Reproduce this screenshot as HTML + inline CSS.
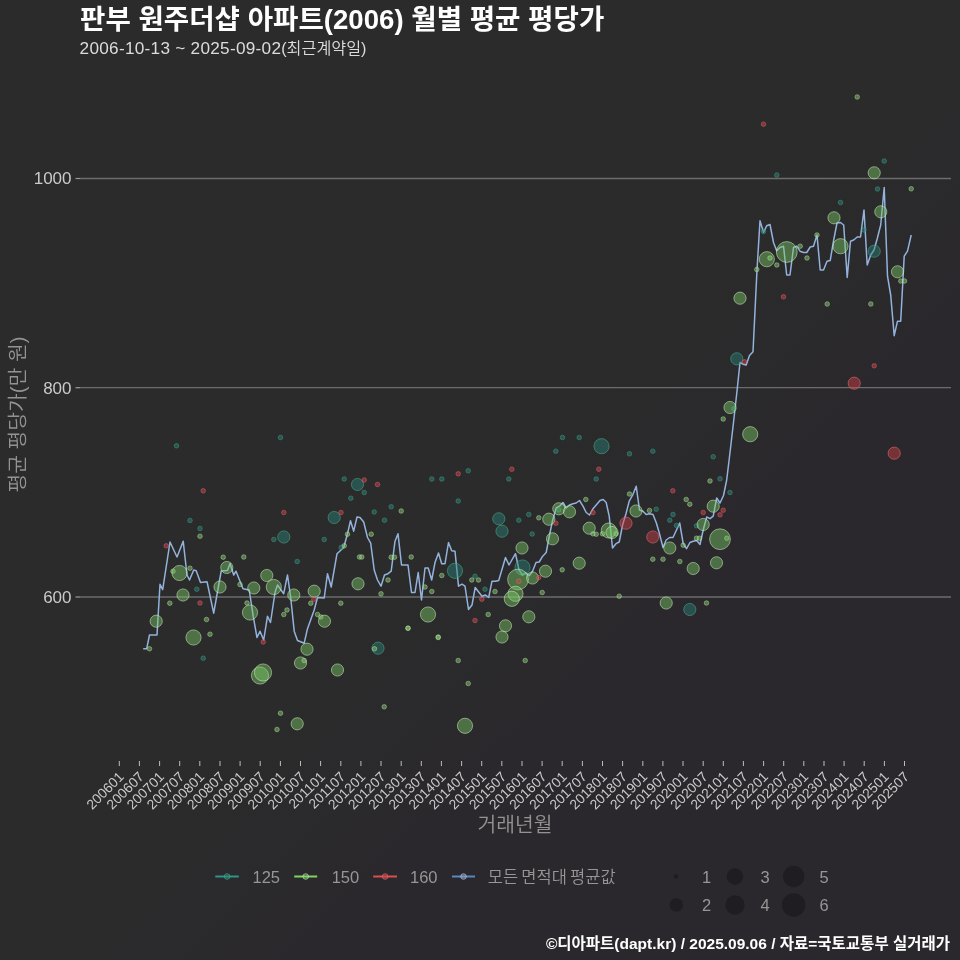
<!DOCTYPE html>
<html lang="ko"><head><meta charset="utf-8"><title>판부 원주더샵 아파트(2006) 월별 평균 평당가</title>
<style>
html,body{margin:0;padding:0;background:#2b2a2c;}
body{width:960px;height:960px;overflow:hidden;background:linear-gradient(135deg,#2b2b2b 0%,#2b2b2b 50%,#2a282c 66%,#2a282c 100%);}
svg{display:block;font-family:"Liberation Sans", "Noto Sans CJK KR", sans-serif;will-change:transform;transform:translateZ(0);}
.title{font-weight:700;font-size:27.6px;fill:#ffffff;}
.sub{font-weight:350;font-size:17.2px;fill:#dcdcdc;}
.ytick{font-weight:300;font-size:17px;fill:#cacaca;text-anchor:end;}
.xtick{font-weight:300;font-size:13.8px;fill:#cacaca;text-anchor:end;}
.axt{font-weight:350;font-size:20.4px;fill:#939393;text-anchor:middle;}
.leg{font-weight:350;font-size:16.5px;fill:#969696;}
.foot{font-weight:700;font-size:15.5px;fill:#ffffff;text-anchor:end;}
</style></head><body>
<svg width="960" height="960" viewBox="0 0 960 960">
<line x1="80" y1="178.5" x2="951" y2="178.5" stroke="#6c6c6c" stroke-width="1.3"/>
<line x1="75.5" y1="178.5" x2="80" y2="178.5" stroke="#9a9a9a" stroke-width="1.2"/>
<text class="ytick" x="71.5" y="184.3">1000</text>
<line x1="80" y1="387.7" x2="951" y2="387.7" stroke="#6c6c6c" stroke-width="1.3"/>
<line x1="75.5" y1="387.7" x2="80" y2="387.7" stroke="#9a9a9a" stroke-width="1.2"/>
<text class="ytick" x="71.5" y="393.6">800</text>
<line x1="80" y1="597.0" x2="951" y2="597.0" stroke="#6c6c6c" stroke-width="1.3"/>
<line x1="75.5" y1="597.0" x2="80" y2="597.0" stroke="#9a9a9a" stroke-width="1.2"/>
<text class="ytick" x="71.5" y="602.9">600</text>
<line x1="119.3" y1="761" x2="119.3" y2="766" stroke="#bdbdbd" stroke-width="1"/>
<text class="xtick" transform="translate(124.7,777.6) rotate(-45)">200601</text>
<line x1="139.4" y1="761" x2="139.4" y2="766" stroke="#bdbdbd" stroke-width="1"/>
<text class="xtick" transform="translate(144.8,777.6) rotate(-45)">200607</text>
<line x1="159.6" y1="761" x2="159.6" y2="766" stroke="#bdbdbd" stroke-width="1"/>
<text class="xtick" transform="translate(165.0,777.6) rotate(-45)">200701</text>
<line x1="179.7" y1="761" x2="179.7" y2="766" stroke="#bdbdbd" stroke-width="1"/>
<text class="xtick" transform="translate(185.1,777.6) rotate(-45)">200707</text>
<line x1="199.8" y1="761" x2="199.8" y2="766" stroke="#bdbdbd" stroke-width="1"/>
<text class="xtick" transform="translate(205.2,777.6) rotate(-45)">200801</text>
<line x1="220.0" y1="761" x2="220.0" y2="766" stroke="#bdbdbd" stroke-width="1"/>
<text class="xtick" transform="translate(225.4,777.6) rotate(-45)">200807</text>
<line x1="240.1" y1="761" x2="240.1" y2="766" stroke="#bdbdbd" stroke-width="1"/>
<text class="xtick" transform="translate(245.5,777.6) rotate(-45)">200901</text>
<line x1="260.2" y1="761" x2="260.2" y2="766" stroke="#bdbdbd" stroke-width="1"/>
<text class="xtick" transform="translate(265.6,777.6) rotate(-45)">200907</text>
<line x1="280.4" y1="761" x2="280.4" y2="766" stroke="#bdbdbd" stroke-width="1"/>
<text class="xtick" transform="translate(285.8,777.6) rotate(-45)">201001</text>
<line x1="300.5" y1="761" x2="300.5" y2="766" stroke="#bdbdbd" stroke-width="1"/>
<text class="xtick" transform="translate(305.9,777.6) rotate(-45)">201007</text>
<line x1="320.6" y1="761" x2="320.6" y2="766" stroke="#bdbdbd" stroke-width="1"/>
<text class="xtick" transform="translate(326.0,777.6) rotate(-45)">201101</text>
<line x1="340.8" y1="761" x2="340.8" y2="766" stroke="#bdbdbd" stroke-width="1"/>
<text class="xtick" transform="translate(346.2,777.6) rotate(-45)">201107</text>
<line x1="360.9" y1="761" x2="360.9" y2="766" stroke="#bdbdbd" stroke-width="1"/>
<text class="xtick" transform="translate(366.3,777.6) rotate(-45)">201201</text>
<line x1="381.0" y1="761" x2="381.0" y2="766" stroke="#bdbdbd" stroke-width="1"/>
<text class="xtick" transform="translate(386.4,777.6) rotate(-45)">201207</text>
<line x1="401.2" y1="761" x2="401.2" y2="766" stroke="#bdbdbd" stroke-width="1"/>
<text class="xtick" transform="translate(406.6,777.6) rotate(-45)">201301</text>
<line x1="421.3" y1="761" x2="421.3" y2="766" stroke="#bdbdbd" stroke-width="1"/>
<text class="xtick" transform="translate(426.7,777.6) rotate(-45)">201307</text>
<line x1="441.4" y1="761" x2="441.4" y2="766" stroke="#bdbdbd" stroke-width="1"/>
<text class="xtick" transform="translate(446.8,777.6) rotate(-45)">201401</text>
<line x1="461.6" y1="761" x2="461.6" y2="766" stroke="#bdbdbd" stroke-width="1"/>
<text class="xtick" transform="translate(467.0,777.6) rotate(-45)">201407</text>
<line x1="481.7" y1="761" x2="481.7" y2="766" stroke="#bdbdbd" stroke-width="1"/>
<text class="xtick" transform="translate(487.1,777.6) rotate(-45)">201501</text>
<line x1="501.8" y1="761" x2="501.8" y2="766" stroke="#bdbdbd" stroke-width="1"/>
<text class="xtick" transform="translate(507.2,777.6) rotate(-45)">201507</text>
<line x1="522.0" y1="761" x2="522.0" y2="766" stroke="#bdbdbd" stroke-width="1"/>
<text class="xtick" transform="translate(527.4,777.6) rotate(-45)">201601</text>
<line x1="542.1" y1="761" x2="542.1" y2="766" stroke="#bdbdbd" stroke-width="1"/>
<text class="xtick" transform="translate(547.5,777.6) rotate(-45)">201607</text>
<line x1="562.2" y1="761" x2="562.2" y2="766" stroke="#bdbdbd" stroke-width="1"/>
<text class="xtick" transform="translate(567.6,777.6) rotate(-45)">201701</text>
<line x1="582.4" y1="761" x2="582.4" y2="766" stroke="#bdbdbd" stroke-width="1"/>
<text class="xtick" transform="translate(587.8,777.6) rotate(-45)">201707</text>
<line x1="602.5" y1="761" x2="602.5" y2="766" stroke="#bdbdbd" stroke-width="1"/>
<text class="xtick" transform="translate(607.9,777.6) rotate(-45)">201801</text>
<line x1="622.6" y1="761" x2="622.6" y2="766" stroke="#bdbdbd" stroke-width="1"/>
<text class="xtick" transform="translate(628.0,777.6) rotate(-45)">201807</text>
<line x1="642.8" y1="761" x2="642.8" y2="766" stroke="#bdbdbd" stroke-width="1"/>
<text class="xtick" transform="translate(648.2,777.6) rotate(-45)">201901</text>
<line x1="662.9" y1="761" x2="662.9" y2="766" stroke="#bdbdbd" stroke-width="1"/>
<text class="xtick" transform="translate(668.3,777.6) rotate(-45)">201907</text>
<line x1="683.0" y1="761" x2="683.0" y2="766" stroke="#bdbdbd" stroke-width="1"/>
<text class="xtick" transform="translate(688.4,777.6) rotate(-45)">202001</text>
<line x1="703.2" y1="761" x2="703.2" y2="766" stroke="#bdbdbd" stroke-width="1"/>
<text class="xtick" transform="translate(708.6,777.6) rotate(-45)">202007</text>
<line x1="723.3" y1="761" x2="723.3" y2="766" stroke="#bdbdbd" stroke-width="1"/>
<text class="xtick" transform="translate(728.7,777.6) rotate(-45)">202101</text>
<line x1="743.4" y1="761" x2="743.4" y2="766" stroke="#bdbdbd" stroke-width="1"/>
<text class="xtick" transform="translate(748.8,777.6) rotate(-45)">202107</text>
<line x1="763.6" y1="761" x2="763.6" y2="766" stroke="#bdbdbd" stroke-width="1"/>
<text class="xtick" transform="translate(769.0,777.6) rotate(-45)">202201</text>
<line x1="783.7" y1="761" x2="783.7" y2="766" stroke="#bdbdbd" stroke-width="1"/>
<text class="xtick" transform="translate(789.1,777.6) rotate(-45)">202207</text>
<line x1="803.8" y1="761" x2="803.8" y2="766" stroke="#bdbdbd" stroke-width="1"/>
<text class="xtick" transform="translate(809.2,777.6) rotate(-45)">202301</text>
<line x1="824.0" y1="761" x2="824.0" y2="766" stroke="#bdbdbd" stroke-width="1"/>
<text class="xtick" transform="translate(829.4,777.6) rotate(-45)">202307</text>
<line x1="844.1" y1="761" x2="844.1" y2="766" stroke="#bdbdbd" stroke-width="1"/>
<text class="xtick" transform="translate(849.5,777.6) rotate(-45)">202401</text>
<line x1="864.2" y1="761" x2="864.2" y2="766" stroke="#bdbdbd" stroke-width="1"/>
<text class="xtick" transform="translate(869.6,777.6) rotate(-45)">202407</text>
<line x1="884.4" y1="761" x2="884.4" y2="766" stroke="#bdbdbd" stroke-width="1"/>
<text class="xtick" transform="translate(889.8,777.6) rotate(-45)">202501</text>
<line x1="904.5" y1="761" x2="904.5" y2="766" stroke="#bdbdbd" stroke-width="1"/>
<text class="xtick" transform="translate(909.9,777.6) rotate(-45)">202507</text>
<polyline fill="none" stroke="#93b3dc" stroke-width="1.5" stroke-linejoin="round" stroke-linecap="butt" points="143.2,648.7 146.7,648.7 149.5,635.0 157.0,635.0 160.0,584.3 162.7,589.7 170.0,542.0 177.0,557.0 183.2,541.2 187.0,575.0 189.5,580.0 193.7,570.0 196.2,570.7 200.5,582.5 207.0,581.7 213.7,613.2 221.2,571.0 227.5,570.5 230.0,563.5 233.7,575.0 236.0,571.2 243.0,588.7 249.2,590.0 253.2,616.2 257.0,637.5 260.0,631.2 263.7,640.0 267.5,616.2 270.5,622.5 275.0,592.5 277.5,585.0 283.7,593.7 287.5,575.0 290.7,597.5 294.2,631.2 297.5,640.5 304.2,643.2 307.5,628.7 314.2,610.0 317.5,597.5 324.2,598.0 327.5,573.7 331.2,587.0 337.0,553.7 343.7,547.5 347.5,533.7 350.5,520.7 353.7,531.2 357.0,517.0 360.0,517.5 363.7,522.0 367.5,537.5 370.7,543.2 374.2,570.0 377.5,580.0 381.0,586.2 384.5,575.0 388.0,573.7 391.2,571.2 395.0,541.2 398.0,533.7 401.5,565.0 408.0,565.0 411.5,592.5 415.0,592.5 418.2,572.5 421.5,600.0 425.0,568.0 428.2,568.0 431.7,580.0 435.0,562.5 438.5,553.0 441.7,563.7 445.0,563.7 448.5,542.5 451.7,550.7 455.0,551.2 458.5,586.2 462.0,584.2 465.0,586.2 468.5,609.5 472.0,605.0 475.2,587.5 482.0,596.2 485.5,595.0 488.7,597.5 492.0,581.2 495.5,581.2 498.7,580.5 505.5,557.5 509.0,565.0 515.5,553.7 519.0,570.0 522.5,575.0 525.7,572.5 529.2,575.7 532.5,571.2 536.0,562.5 539.2,562.0 542.7,556.2 546.2,552.5 549.5,535.0 552.7,520.0 556.2,508.0 559.5,506.2 563.0,502.5 566.2,508.0 569.5,505.0 573.0,503.7 576.2,503.0 579.5,500.5 583.0,506.2 586.2,512.5 589.5,515.0 593.0,508.7 596.2,505.0 600.0,500.5 603.2,499.5 606.2,502.5 609.2,516.2 612.5,548.0 616.0,543.7 619.2,542.0 622.7,524.5 626.0,513.7 629.2,501.2 632.7,495.0 636.2,486.2 639.5,510.0 643.0,511.2 646.2,514.5 649.5,513.7 653.0,514.5 656.2,522.5 659.5,533.7 663.0,547.5 666.2,540.0 669.7,537.5 673.0,537.5 676.5,530.0 679.7,523.0 683.2,543.7 686.5,548.7 690.0,542.5 693.2,541.2 696.7,540.5 700.0,544.5 703.2,530.0 706.7,517.0 710.0,518.7 713.2,516.2 716.7,498.0 720.0,503.0 723.5,495.5 726.7,480.0 730.0,452.5 733.5,422.5 736.8,393.0 740.0,362.5 743.0,364.2 746.2,365.0 749.5,355.5 753.0,351.7 757.0,270.0 760.0,220.7 763.5,232.5 766.7,225.7 770.0,224.5 773.5,242.5 776.7,250.7 780.0,247.5 783.5,246.2 786.7,275.0 790.0,275.0 793.5,247.5 796.7,246.2 800.0,251.2 803.5,252.5 806.7,252.5 810.2,247.0 813.5,246.2 817.0,235.0 820.2,270.0 823.5,270.0 827.0,261.2 830.2,260.5 833.7,240.0 837.0,223.0 840.5,222.5 843.7,225.0 847.2,277.5 850.5,241.2 853.7,240.0 857.2,237.0 860.5,237.0 864.0,210.0 867.2,265.0 870.7,255.0 874.0,250.0 877.2,238.7 880.7,225.0 884.2,187.5 887.5,276.2 890.7,295.0 894.2,335.7 897.5,321.2 900.7,321.2 904.2,256.2 907.5,251.2 911.2,235.0"/>
<g fill="#28847c" fill-opacity="0.44" stroke="#4bb18f" stroke-opacity="0.6" stroke-width="0.9">
<circle cx="176.5" cy="445.8" r="2.3" fill-opacity="0.5" stroke-opacity="0.45"/>
<circle cx="280.5" cy="437.5" r="2.3" fill-opacity="0.5" stroke-opacity="0.45"/>
<circle cx="344.2" cy="479.0" r="2.3" fill-opacity="0.5" stroke-opacity="0.45"/>
<circle cx="357.5" cy="484.5" r="6.1"/>
<circle cx="350.8" cy="498.2" r="2.3" fill-opacity="0.5" stroke-opacity="0.45"/>
<circle cx="334.2" cy="517.5" r="6.1"/>
<circle cx="190.0" cy="520.5" r="2.3" fill-opacity="0.5" stroke-opacity="0.45"/>
<circle cx="200.0" cy="528.5" r="2.3" fill-opacity="0.5" stroke-opacity="0.45"/>
<circle cx="283.8" cy="537.0" r="6.1"/>
<circle cx="273.8" cy="539.5" r="2.3" fill-opacity="0.5" stroke-opacity="0.45"/>
<circle cx="324.2" cy="539.5" r="2.3" fill-opacity="0.5" stroke-opacity="0.45"/>
<circle cx="341.2" cy="547.5" r="2.3" fill-opacity="0.5" stroke-opacity="0.45"/>
<circle cx="297.2" cy="561.5" r="2.3" fill-opacity="0.5" stroke-opacity="0.45"/>
<circle cx="196.8" cy="589.2" r="2.3" fill-opacity="0.5" stroke-opacity="0.45"/>
<circle cx="203.2" cy="658.2" r="2.3" fill-opacity="0.5" stroke-opacity="0.45"/>
<circle cx="364.2" cy="492.5" r="2.3" fill-opacity="0.5" stroke-opacity="0.45"/>
<circle cx="374.2" cy="512.0" r="2.3" fill-opacity="0.5" stroke-opacity="0.45"/>
<circle cx="391.2" cy="506.8" r="2.3" fill-opacity="0.5" stroke-opacity="0.45"/>
<circle cx="384.5" cy="520.2" r="2.3" fill-opacity="0.5" stroke-opacity="0.45"/>
<circle cx="431.8" cy="479.0" r="2.3" fill-opacity="0.5" stroke-opacity="0.45"/>
<circle cx="441.8" cy="479.0" r="2.3" fill-opacity="0.5" stroke-opacity="0.45"/>
<circle cx="468.2" cy="470.8" r="2.3" fill-opacity="0.5" stroke-opacity="0.45"/>
<circle cx="458.2" cy="501.0" r="2.3" fill-opacity="0.5" stroke-opacity="0.45"/>
<circle cx="508.8" cy="479.0" r="2.3" fill-opacity="0.5" stroke-opacity="0.45"/>
<circle cx="555.8" cy="451.2" r="2.3" fill-opacity="0.5" stroke-opacity="0.45"/>
<circle cx="562.5" cy="437.5" r="2.3" fill-opacity="0.5" stroke-opacity="0.45"/>
<circle cx="579.2" cy="437.5" r="2.3" fill-opacity="0.5" stroke-opacity="0.45"/>
<circle cx="596.2" cy="479.0" r="2.3" fill-opacity="0.5" stroke-opacity="0.45"/>
<circle cx="528.8" cy="514.5" r="2.3" fill-opacity="0.5" stroke-opacity="0.45"/>
<circle cx="518.8" cy="520.2" r="2.3" fill-opacity="0.5" stroke-opacity="0.45"/>
<circle cx="532.2" cy="534.0" r="2.3" fill-opacity="0.5" stroke-opacity="0.45"/>
<circle cx="475.0" cy="576.2" r="2.3" fill-opacity="0.5" stroke-opacity="0.45"/>
<circle cx="485.0" cy="589.2" r="2.3" fill-opacity="0.5" stroke-opacity="0.45"/>
<circle cx="498.8" cy="518.8" r="6.1"/>
<circle cx="502.0" cy="531.2" r="6.1"/>
<circle cx="455.0" cy="570.8" r="7.6"/>
<circle cx="522.5" cy="567.5" r="7.6"/>
<circle cx="558.8" cy="510.0" r="2.3" fill-opacity="0.5" stroke-opacity="0.45"/>
<circle cx="378.0" cy="648.2" r="6.1"/>
<circle cx="601.5" cy="446.2" r="7.6"/>
<circle cx="629.5" cy="453.8" r="2.3" fill-opacity="0.5" stroke-opacity="0.45"/>
<circle cx="652.8" cy="451.2" r="2.3" fill-opacity="0.5" stroke-opacity="0.45"/>
<circle cx="713.2" cy="456.8" r="2.3" fill-opacity="0.5" stroke-opacity="0.45"/>
<circle cx="720.0" cy="478.8" r="2.3" fill-opacity="0.5" stroke-opacity="0.45"/>
<circle cx="730.0" cy="492.5" r="2.3" fill-opacity="0.5" stroke-opacity="0.45"/>
<circle cx="656.2" cy="509.2" r="2.3" fill-opacity="0.5" stroke-opacity="0.45"/>
<circle cx="673.0" cy="514.5" r="2.3" fill-opacity="0.5" stroke-opacity="0.45"/>
<circle cx="669.8" cy="520.2" r="2.3" fill-opacity="0.5" stroke-opacity="0.45"/>
<circle cx="676.5" cy="525.5" r="2.3" fill-opacity="0.5" stroke-opacity="0.45"/>
<circle cx="696.5" cy="525.8" r="2.3" fill-opacity="0.5" stroke-opacity="0.45"/>
<circle cx="733.8" cy="408.8" r="2.3" fill-opacity="0.5" stroke-opacity="0.45"/>
<circle cx="689.8" cy="609.5" r="6.1"/>
<circle cx="884.2" cy="161.0" r="2.3" fill-opacity="0.5" stroke-opacity="0.45"/>
<circle cx="776.8" cy="175.0" r="2.3" fill-opacity="0.5" stroke-opacity="0.45"/>
<circle cx="877.5" cy="189.0" r="2.3" fill-opacity="0.5" stroke-opacity="0.45"/>
<circle cx="840.5" cy="202.5" r="2.3" fill-opacity="0.5" stroke-opacity="0.45"/>
<circle cx="864.0" cy="230.0" r="2.3" fill-opacity="0.5" stroke-opacity="0.45"/>
<circle cx="874.2" cy="251.2" r="6.1"/>
<circle cx="763.5" cy="231.5" r="2.3" fill-opacity="0.5" stroke-opacity="0.45"/>
<circle cx="736.8" cy="358.8" r="6.1"/>
</g>
<g fill="#7ccb66" fill-opacity="0.44" stroke="#d0f2c2" stroke-opacity="0.6" stroke-width="0.9">
<circle cx="200.0" cy="536.2" r="2.3" fill-opacity="0.5" stroke-opacity="0.45"/>
<circle cx="223.2" cy="557.2" r="2.3" fill-opacity="0.5" stroke-opacity="0.45"/>
<circle cx="243.8" cy="557.0" r="2.3" fill-opacity="0.5" stroke-opacity="0.45"/>
<circle cx="347.5" cy="534.2" r="2.3" fill-opacity="0.5" stroke-opacity="0.45"/>
<circle cx="344.2" cy="545.8" r="2.3" fill-opacity="0.5" stroke-opacity="0.45"/>
<circle cx="359.5" cy="557.0" r="2.3" fill-opacity="0.5" stroke-opacity="0.45"/>
<circle cx="190.0" cy="568.2" r="2.3" fill-opacity="0.5" stroke-opacity="0.45"/>
<circle cx="173.0" cy="571.2" r="2.3" fill-opacity="0.5" stroke-opacity="0.45"/>
<circle cx="179.5" cy="573.0" r="7.6"/>
<circle cx="226.8" cy="567.5" r="6.1"/>
<circle cx="240.0" cy="584.5" r="2.3" fill-opacity="0.5" stroke-opacity="0.45"/>
<circle cx="266.8" cy="575.5" r="6.1"/>
<circle cx="220.0" cy="587.0" r="6.1"/>
<circle cx="253.8" cy="588.0" r="6.1"/>
<circle cx="273.8" cy="587.0" r="7.6"/>
<circle cx="183.0" cy="595.0" r="6.1"/>
<circle cx="293.8" cy="595.0" r="6.1"/>
<circle cx="314.2" cy="591.2" r="6.1"/>
<circle cx="358.0" cy="583.8" r="6.1"/>
<circle cx="169.8" cy="603.2" r="2.3" fill-opacity="0.5" stroke-opacity="0.45"/>
<circle cx="247.0" cy="603.0" r="2.3" fill-opacity="0.5" stroke-opacity="0.45"/>
<circle cx="310.8" cy="603.2" r="2.3" fill-opacity="0.5" stroke-opacity="0.45"/>
<circle cx="340.8" cy="603.2" r="2.3" fill-opacity="0.5" stroke-opacity="0.45"/>
<circle cx="250.0" cy="612.5" r="7.6"/>
<circle cx="287.0" cy="610.0" r="2.3" fill-opacity="0.5" stroke-opacity="0.45"/>
<circle cx="283.8" cy="614.5" r="2.3" fill-opacity="0.5" stroke-opacity="0.45"/>
<circle cx="317.5" cy="614.5" r="2.3" fill-opacity="0.5" stroke-opacity="0.45"/>
<circle cx="320.8" cy="617.0" r="2.3" fill-opacity="0.5" stroke-opacity="0.45"/>
<circle cx="324.5" cy="621.2" r="6.1"/>
<circle cx="206.5" cy="619.5" r="2.3" fill-opacity="0.5" stroke-opacity="0.45"/>
<circle cx="156.2" cy="621.2" r="6.1"/>
<circle cx="210.0" cy="634.2" r="2.3" fill-opacity="0.5" stroke-opacity="0.45"/>
<circle cx="193.5" cy="637.5" r="7.6"/>
<circle cx="149.5" cy="648.8" r="2.3" fill-opacity="0.5" stroke-opacity="0.45"/>
<circle cx="307.0" cy="649.2" r="6.1"/>
<circle cx="300.5" cy="663.0" r="6.1"/>
<circle cx="304.2" cy="660.5" r="2.3" fill-opacity="0.5" stroke-opacity="0.45"/>
<circle cx="337.5" cy="670.0" r="6.1"/>
<circle cx="260.0" cy="675.5" r="8.6"/>
<circle cx="263.0" cy="672.5" r="8.6"/>
<circle cx="280.5" cy="713.2" r="2.3" fill-opacity="0.5" stroke-opacity="0.45"/>
<circle cx="297.2" cy="723.8" r="6.1"/>
<circle cx="277.0" cy="729.5" r="2.3" fill-opacity="0.5" stroke-opacity="0.45"/>
<circle cx="401.2" cy="511.0" r="2.3" fill-opacity="0.5" stroke-opacity="0.45"/>
<circle cx="371.2" cy="534.2" r="2.3" fill-opacity="0.5" stroke-opacity="0.45"/>
<circle cx="361.8" cy="557.0" r="2.3" fill-opacity="0.5" stroke-opacity="0.45"/>
<circle cx="391.2" cy="557.2" r="2.3" fill-opacity="0.5" stroke-opacity="0.45"/>
<circle cx="394.5" cy="557.2" r="2.3" fill-opacity="0.5" stroke-opacity="0.45"/>
<circle cx="411.2" cy="557.0" r="2.3" fill-opacity="0.5" stroke-opacity="0.45"/>
<circle cx="388.0" cy="580.0" r="2.3" fill-opacity="0.5" stroke-opacity="0.45"/>
<circle cx="381.0" cy="593.8" r="2.3" fill-opacity="0.5" stroke-opacity="0.45"/>
<circle cx="441.8" cy="575.5" r="2.3" fill-opacity="0.5" stroke-opacity="0.45"/>
<circle cx="425.0" cy="587.0" r="2.3" fill-opacity="0.5" stroke-opacity="0.45"/>
<circle cx="431.8" cy="591.5" r="2.3" fill-opacity="0.5" stroke-opacity="0.45"/>
<circle cx="471.8" cy="580.0" r="2.3" fill-opacity="0.5" stroke-opacity="0.45"/>
<circle cx="478.5" cy="580.0" r="2.3" fill-opacity="0.5" stroke-opacity="0.45"/>
<circle cx="495.0" cy="591.5" r="2.3" fill-opacity="0.5" stroke-opacity="0.45"/>
<circle cx="488.2" cy="614.5" r="2.3" fill-opacity="0.5" stroke-opacity="0.45"/>
<circle cx="408.0" cy="628.2" r="2.3" fill-opacity="0.5" stroke-opacity="0.45"/>
<circle cx="438.2" cy="637.0" r="2.3" fill-opacity="0.5" stroke-opacity="0.45"/>
<circle cx="538.8" cy="517.8" r="2.3" fill-opacity="0.5" stroke-opacity="0.45"/>
<circle cx="585.8" cy="499.5" r="2.3" fill-opacity="0.5" stroke-opacity="0.45"/>
<circle cx="562.2" cy="569.8" r="2.3" fill-opacity="0.5" stroke-opacity="0.45"/>
<circle cx="542.2" cy="592.5" r="2.3" fill-opacity="0.5" stroke-opacity="0.45"/>
<circle cx="593.0" cy="533.8" r="2.3" fill-opacity="0.5" stroke-opacity="0.45"/>
<circle cx="596.2" cy="534.2" r="2.3" fill-opacity="0.5" stroke-opacity="0.45"/>
<circle cx="428.0" cy="614.5" r="7.6"/>
<circle cx="522.0" cy="548.0" r="6.1"/>
<circle cx="548.8" cy="519.2" r="6.1"/>
<circle cx="558.8" cy="508.8" r="6.1"/>
<circle cx="569.5" cy="511.8" r="6.1"/>
<circle cx="552.5" cy="538.8" r="6.1"/>
<circle cx="589.2" cy="528.2" r="6.1"/>
<circle cx="579.2" cy="563.2" r="6.1"/>
<circle cx="545.5" cy="571.2" r="6.1"/>
<circle cx="532.5" cy="578.0" r="6.1"/>
<circle cx="518.0" cy="579.5" r="10.4"/>
<circle cx="515.5" cy="593.8" r="7.6"/>
<circle cx="511.8" cy="598.8" r="7.6"/>
<circle cx="528.8" cy="616.8" r="6.1"/>
<circle cx="505.5" cy="625.8" r="6.1"/>
<circle cx="502.0" cy="637.0" r="6.1"/>
<circle cx="408.0" cy="628.2" r="2.3" fill-opacity="0.5" stroke-opacity="0.45"/>
<circle cx="438.2" cy="637.5" r="2.3" fill-opacity="0.5" stroke-opacity="0.45"/>
<circle cx="374.5" cy="648.8" r="2.3" fill-opacity="0.5" stroke-opacity="0.45"/>
<circle cx="458.2" cy="660.5" r="2.3" fill-opacity="0.5" stroke-opacity="0.45"/>
<circle cx="525.2" cy="660.5" r="2.3" fill-opacity="0.5" stroke-opacity="0.45"/>
<circle cx="468.2" cy="683.5" r="2.3" fill-opacity="0.5" stroke-opacity="0.45"/>
<circle cx="384.2" cy="706.8" r="2.3" fill-opacity="0.5" stroke-opacity="0.45"/>
<circle cx="465.0" cy="725.8" r="7.6"/>
<circle cx="629.5" cy="494.0" r="2.3" fill-opacity="0.5" stroke-opacity="0.45"/>
<circle cx="649.5" cy="510.5" r="2.3" fill-opacity="0.5" stroke-opacity="0.45"/>
<circle cx="686.2" cy="499.5" r="2.3" fill-opacity="0.5" stroke-opacity="0.45"/>
<circle cx="689.8" cy="504.2" r="2.3" fill-opacity="0.5" stroke-opacity="0.45"/>
<circle cx="710.0" cy="481.0" r="2.3" fill-opacity="0.5" stroke-opacity="0.45"/>
<circle cx="723.2" cy="419.0" r="2.3" fill-opacity="0.5" stroke-opacity="0.45"/>
<circle cx="652.8" cy="559.2" r="2.3" fill-opacity="0.5" stroke-opacity="0.45"/>
<circle cx="663.0" cy="559.2" r="2.3" fill-opacity="0.5" stroke-opacity="0.45"/>
<circle cx="679.8" cy="561.5" r="2.3" fill-opacity="0.5" stroke-opacity="0.45"/>
<circle cx="683.2" cy="545.2" r="2.3" fill-opacity="0.5" stroke-opacity="0.45"/>
<circle cx="696.5" cy="538.2" r="2.3" fill-opacity="0.5" stroke-opacity="0.45"/>
<circle cx="699.5" cy="538.2" r="2.3" fill-opacity="0.5" stroke-opacity="0.45"/>
<circle cx="726.8" cy="538.2" r="2.3" fill-opacity="0.5" stroke-opacity="0.45"/>
<circle cx="602.5" cy="533.8" r="2.3" fill-opacity="0.5" stroke-opacity="0.45"/>
<circle cx="616.0" cy="533.8" r="2.3" fill-opacity="0.5" stroke-opacity="0.45"/>
<circle cx="619.2" cy="596.2" r="2.3" fill-opacity="0.5" stroke-opacity="0.45"/>
<circle cx="706.5" cy="603.0" r="2.3" fill-opacity="0.5" stroke-opacity="0.45"/>
<circle cx="730.0" cy="407.5" r="6.1"/>
<circle cx="750.2" cy="434.2" r="7.6"/>
<circle cx="713.2" cy="506.2" r="6.1"/>
<circle cx="636.0" cy="511.0" r="6.1"/>
<circle cx="703.2" cy="524.5" r="6.1"/>
<circle cx="720.0" cy="539.2" r="10.4"/>
<circle cx="608.8" cy="530.5" r="7.6"/>
<circle cx="612.0" cy="532.5" r="6.1"/>
<circle cx="669.8" cy="548.0" r="6.1"/>
<circle cx="716.5" cy="562.8" r="6.1"/>
<circle cx="693.2" cy="568.5" r="6.1"/>
<circle cx="666.2" cy="603.0" r="6.1"/>
<circle cx="857.2" cy="97.0" r="2.3" fill-opacity="0.5" stroke-opacity="0.45"/>
<circle cx="874.2" cy="172.8" r="6.1"/>
<circle cx="911.2" cy="188.8" r="2.3" fill-opacity="0.5" stroke-opacity="0.45"/>
<circle cx="880.8" cy="211.8" r="6.1"/>
<circle cx="834.0" cy="217.8" r="6.1"/>
<circle cx="817.0" cy="235.0" r="2.3" fill-opacity="0.5" stroke-opacity="0.45"/>
<circle cx="800.2" cy="246.2" r="2.3" fill-opacity="0.5" stroke-opacity="0.45"/>
<circle cx="840.5" cy="246.2" r="7.6"/>
<circle cx="786.8" cy="252.0" r="10.4"/>
<circle cx="766.8" cy="259.2" r="7.6"/>
<circle cx="770.0" cy="258.0" r="2.3" fill-opacity="0.5" stroke-opacity="0.45"/>
<circle cx="807.0" cy="258.0" r="2.3" fill-opacity="0.5" stroke-opacity="0.45"/>
<circle cx="776.8" cy="265.0" r="2.3" fill-opacity="0.5" stroke-opacity="0.45"/>
<circle cx="756.8" cy="269.5" r="2.3" fill-opacity="0.5" stroke-opacity="0.45"/>
<circle cx="897.5" cy="271.8" r="6.1"/>
<circle cx="900.8" cy="281.0" r="2.3" fill-opacity="0.5" stroke-opacity="0.45"/>
<circle cx="904.5" cy="281.0" r="2.3" fill-opacity="0.5" stroke-opacity="0.45"/>
<circle cx="740.0" cy="298.2" r="6.1"/>
<circle cx="827.2" cy="304.0" r="2.3" fill-opacity="0.5" stroke-opacity="0.45"/>
<circle cx="870.8" cy="304.0" r="2.3" fill-opacity="0.5" stroke-opacity="0.45"/>
</g>
<g fill="#d74347" fill-opacity="0.44" stroke="#f06e7d" stroke-opacity="0.6" stroke-width="0.9">
<circle cx="203.2" cy="490.8" r="2.3" fill-opacity="0.5" stroke-opacity="0.45"/>
<circle cx="283.8" cy="512.5" r="2.3" fill-opacity="0.5" stroke-opacity="0.45"/>
<circle cx="341.0" cy="512.5" r="2.3" fill-opacity="0.5" stroke-opacity="0.45"/>
<circle cx="166.2" cy="545.8" r="2.3" fill-opacity="0.5" stroke-opacity="0.45"/>
<circle cx="200.0" cy="603.0" r="2.3" fill-opacity="0.5" stroke-opacity="0.45"/>
<circle cx="313.8" cy="599.2" r="2.3" fill-opacity="0.5" stroke-opacity="0.45"/>
<circle cx="263.2" cy="642.0" r="2.3" fill-opacity="0.5" stroke-opacity="0.45"/>
<circle cx="364.2" cy="480.0" r="2.3" fill-opacity="0.5" stroke-opacity="0.45"/>
<circle cx="377.5" cy="484.5" r="2.3" fill-opacity="0.5" stroke-opacity="0.45"/>
<circle cx="458.2" cy="473.8" r="2.3" fill-opacity="0.5" stroke-opacity="0.45"/>
<circle cx="511.8" cy="469.2" r="2.3" fill-opacity="0.5" stroke-opacity="0.45"/>
<circle cx="598.8" cy="469.2" r="2.3" fill-opacity="0.5" stroke-opacity="0.45"/>
<circle cx="555.8" cy="523.2" r="2.3" fill-opacity="0.5" stroke-opacity="0.45"/>
<circle cx="593.0" cy="512.5" r="2.3" fill-opacity="0.5" stroke-opacity="0.45"/>
<circle cx="518.8" cy="581.2" r="2.3" fill-opacity="0.5" stroke-opacity="0.45"/>
<circle cx="538.8" cy="577.5" r="2.3" fill-opacity="0.5" stroke-opacity="0.45"/>
<circle cx="481.8" cy="599.2" r="2.3" fill-opacity="0.5" stroke-opacity="0.45"/>
<circle cx="475.0" cy="620.5" r="2.3" fill-opacity="0.5" stroke-opacity="0.45"/>
<circle cx="672.8" cy="490.8" r="2.3" fill-opacity="0.5" stroke-opacity="0.45"/>
<circle cx="703.2" cy="512.5" r="2.3" fill-opacity="0.5" stroke-opacity="0.45"/>
<circle cx="723.2" cy="510.2" r="2.3" fill-opacity="0.5" stroke-opacity="0.45"/>
<circle cx="720.0" cy="514.8" r="2.3" fill-opacity="0.5" stroke-opacity="0.45"/>
<circle cx="626.0" cy="523.2" r="6.1"/>
<circle cx="652.8" cy="537.0" r="6.1"/>
<circle cx="763.5" cy="124.2" r="2.3" fill-opacity="0.5" stroke-opacity="0.45"/>
<circle cx="783.5" cy="296.8" r="2.3" fill-opacity="0.5" stroke-opacity="0.45"/>
<circle cx="744.5" cy="361.8" r="2.3" fill-opacity="0.5" stroke-opacity="0.45"/>
<circle cx="874.2" cy="365.8" r="2.3" fill-opacity="0.5" stroke-opacity="0.45"/>
<circle cx="854.2" cy="383.2" r="6.1"/>
<circle cx="894.2" cy="453.2" r="6.1"/>
</g>
<text class="title" x="80" y="29.4">판부 원주더샵 아파트(2006) 월별 평균 평당가</text>
<text class="sub" x="79.6" y="54"><tspan letter-spacing="0.27">2006-10-13 ~ 2025-09-02</tspan><tspan font-size="16.2">(최근계약일)</tspan></text>
<text class="axt" x="515" y="832">거래년월</text>
<text class="axt" transform="translate(24.5,414.5) rotate(-90)">평균 평당가(만 원)</text>
<line x1="215.3" y1="876.5" x2="238.8" y2="876.5" stroke="#2e948c" stroke-width="2"/>
<circle cx="227.1" cy="876.5" r="2.8" fill="#28847c" fill-opacity="0.4" stroke="#4bb18f" stroke-opacity="0.6" stroke-width="1"/>
<text class="leg" x="252.5" y="882.7">125</text>
<line x1="294.2" y1="876.5" x2="317.2" y2="876.5" stroke="#7dd75f" stroke-width="2"/>
<circle cx="305.7" cy="876.5" r="2.8" fill="#7ccb66" fill-opacity="0.4" stroke="#d0f2c2" stroke-opacity="0.6" stroke-width="1"/>
<text class="leg" x="331.7" y="882.7">150</text>
<line x1="373.2" y1="876.5" x2="397.0" y2="876.5" stroke="#d7504b" stroke-width="2"/>
<circle cx="385.1" cy="876.5" r="2.8" fill="#d74347" fill-opacity="0.4" stroke="#f06e7d" stroke-opacity="0.6" stroke-width="1"/>
<text class="leg" x="410.0" y="882.7">160</text>
<line x1="452.0" y1="876.5" x2="475.0" y2="876.5" stroke="#5a87bd" stroke-width="2"/>
<circle cx="463.5" cy="876.5" r="2.8" fill="#93b3dc" fill-opacity="0.4" stroke="#b9cdea" stroke-opacity="0.6" stroke-width="1"/>
<text class="leg" word-spacing="-1.4" x="487.8" y="882.7">모든 면적대 평균값</text>
<circle cx="676.0" cy="876.5" r="2.3" fill="#1f1d21"/>
<text class="leg" x="702.0" y="882.7">1</text>
<circle cx="735.0" cy="876.5" r="8.3" fill="#1f1d21"/>
<text class="leg" x="760.5" y="882.7">3</text>
<circle cx="793.7" cy="876.5" r="10.7" fill="#1f1d21"/>
<text class="leg" x="819.5" y="882.7">5</text>
<circle cx="676.3" cy="905.0" r="6.7" fill="#1f1d21"/>
<text class="leg" x="702.0" y="911.2">2</text>
<circle cx="735.0" cy="905.0" r="9.7" fill="#1f1d21"/>
<text class="leg" x="760.5" y="911.2">4</text>
<circle cx="793.7" cy="905.0" r="11.7" fill="#1f1d21"/>
<text class="leg" x="819.5" y="911.2">6</text>
<text class="foot" x="950" y="949">©디아파트(dapt.kr) / 2025.09.06 / 자료=국토교통부 실거래가</text>
</svg></body></html>
